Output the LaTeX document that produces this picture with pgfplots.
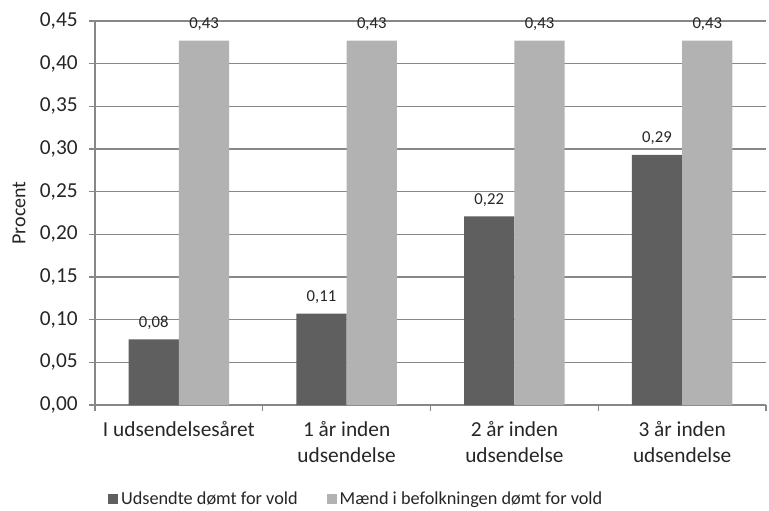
\documentclass[border=0pt]{standalone}
\usepackage{pgfplots}
\pgfplotsset{compat=1.18}
\usetikzlibrary{calc}
\usepackage{fontspec}
\setmainfont{Carlito}
\definecolor{dark}{HTML}{5F5F5F}
\definecolor{light}{HTML}{B2B2B2}
\definecolor{gridc}{HTML}{878787}

\begin{document}
\begin{tikzpicture}
\begin{axis}[
  name=ax,
  scale only axis,
  width=503.25pt, height=288pt,
  ybar=0pt, bar width=0.3,
  xmin=-0.5, xmax=3.5,
  ymin=0, ymax=0.45,
  axis x line*=bottom, axis y line*=left,
  axis line style={gridc, line width=0.9pt},
  tick align=outside,
  major tick length=4.5pt,
  every tick/.style={gridc, line width=0.9pt},
  ytick={0,0.05,0.1,0.15,0.2,0.25,0.3,0.35,0.4,0.45},
  yticklabel style={xshift=-5pt, /pgf/number format/.cd, fixed, fixed zerofill, precision=2, use comma, assume math mode=true},
  ymajorgrids, grid style={gridc, line width=0.9pt},
  xtick={-0.5,0.5,1.5,2.5,3.5},
  xticklabels={,,,,},
  extra x ticks={0,1,2,3},
  extra x tick labels={I udsendelsesåret, 1 år inden\\udsendelse, 2 år inden\\udsendelse, 3 år inden\\udsendelse},
  extra x tick style={major tick length=0pt, grid=none, tick label style={yshift=-9pt}},
  tick label style={font=\fontsize{16}{19.5}\selectfont, color=black!85},
  x tick label style={align=center},
  ylabel={Procent},
  ylabel style={at={(rel axis cs:0,0.5)}, anchor=center, yshift=57pt, font=\fontsize{15}{17}\selectfont, color=black!85},
  nodes near coords={\pgfmathprintnumber[fixed, fixed zerofill, precision=2, use comma, assume math mode=true]{\pgfplotspointmeta}},
  every node near coord/.append style={font=\fontsize{12.5}{14}\selectfont, color=black!85, anchor=center, yshift=12.5pt},
  legend style={at={(0.39,-0.245)}, anchor=center, draw=none, font=\fontsize{13.7}{15}\selectfont, text=black!85,
    legend columns=2, /tikz/every even column/.append style={column sep=20pt},
    /tikz/every odd column/.append style={column sep=0pt}},
  legend image code/.code={\fill[#1] (0pt,-3.75pt) rectangle (7.5pt,3.75pt);},
]
\addplot[fill=dark, draw=none] coordinates {(0,0.077) (1,0.107) (2,0.221) (3,0.293)};
\addplot[fill=light, draw=none] coordinates {(0,0.427) (1,0.427) (2,0.427) (3,0.427)};
\legend{Udsendte dømt for vold, Mænd i befolkningen dømt for vold}
\end{axis}
\pgfresetboundingbox
\path[use as bounding box] ($(ax.south west)+(-71.25pt,-78.75pt)$) rectangle ($(ax.north east)+(2.25pt,15.75pt)$);
\end{tikzpicture}
\end{document}
